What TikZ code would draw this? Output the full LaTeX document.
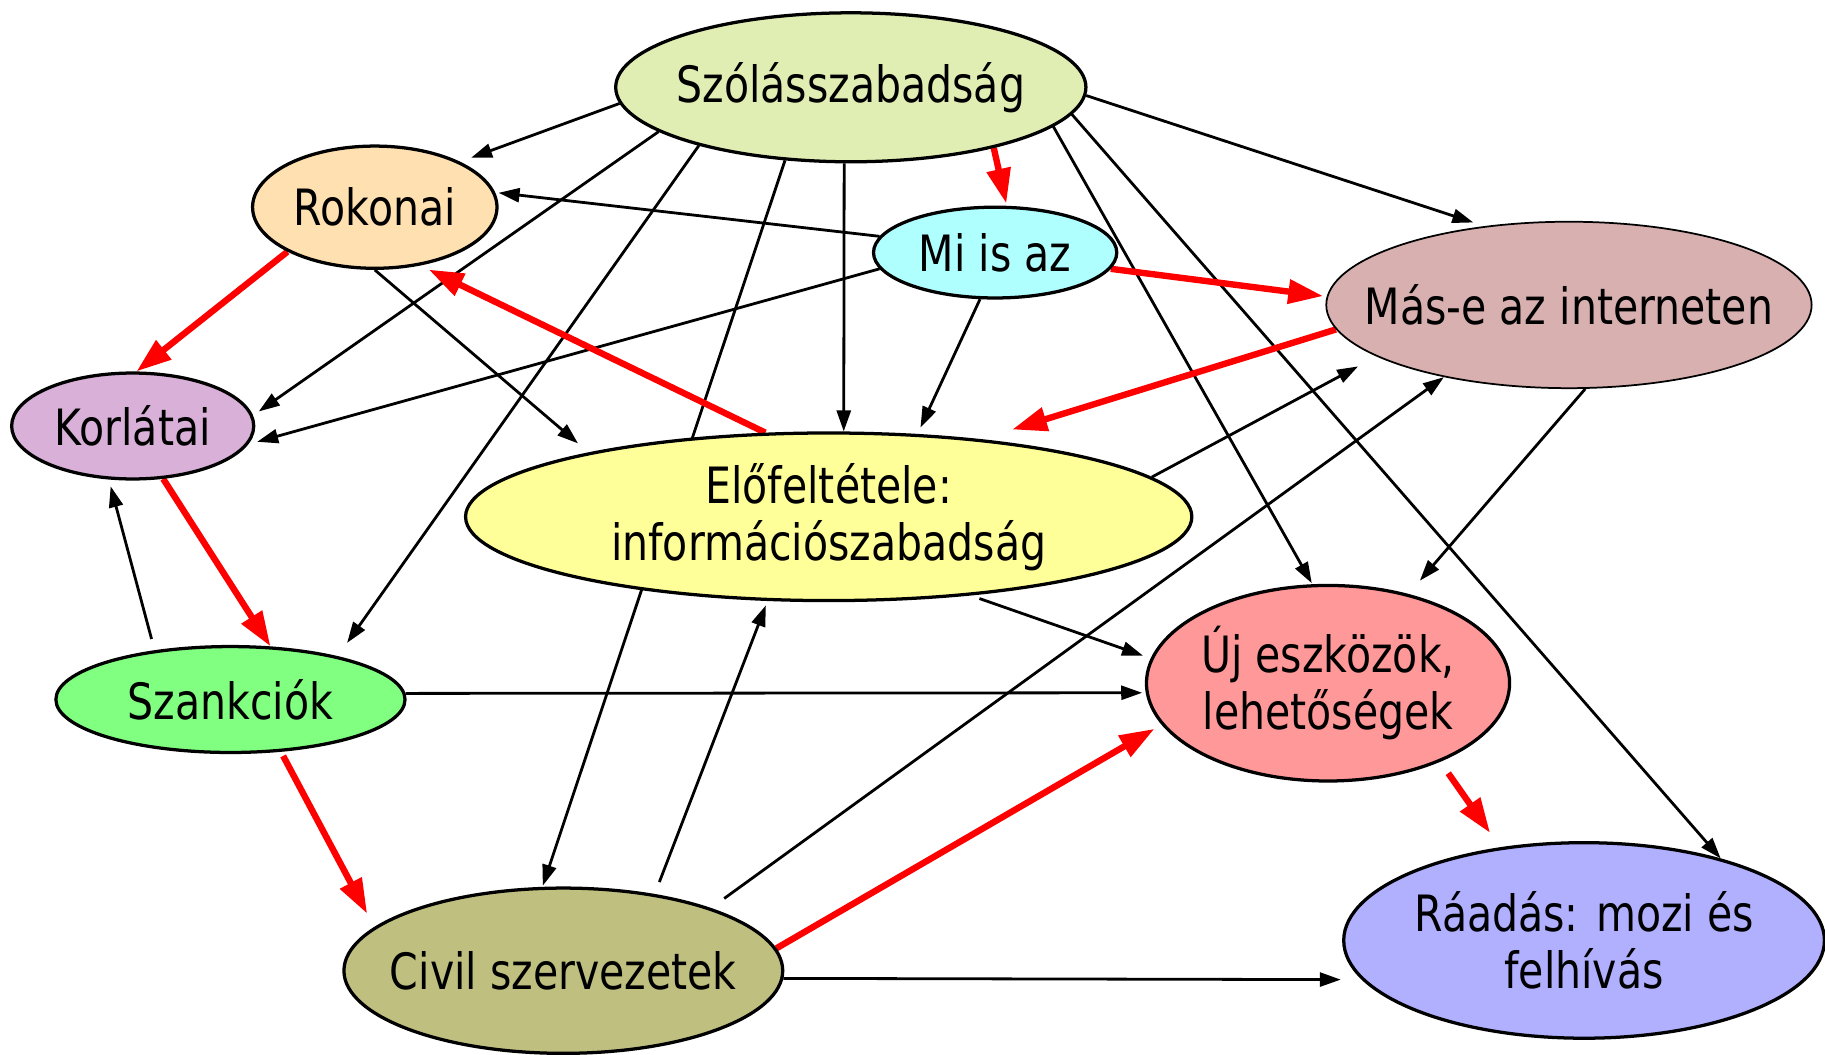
\documentclass[tikz,border=0pt]{standalone}
\usepackage{fontspec}
\setmainfont[FakeStretch=0.82]{DejaVu Sans}
\usetikzlibrary{shapes.geometric,arrows.meta}
\pgfdeclarelayer{bg}
\pgfsetlayers{bg,main}
\definecolor{cSzol}{HTML}{E0EEB4}
\definecolor{cRok}{HTML}{FFE0B0}
\definecolor{cMi}{HTML}{B0FFFF}
\definecolor{cMase}{HTML}{D8B0B0}
\definecolor{cKor}{HTML}{D8B0D8}
\definecolor{cElo}{HTML}{FFFF99}
\definecolor{cUj}{HTML}{FF9999}
\definecolor{cSzank}{HTML}{80FF80}
\definecolor{cCivil}{HTML}{BFBF80}
\definecolor{cRaadas}{HTML}{B0B0FF}
\begin{document}
\begin{tikzpicture}[x=1pt,y=-1pt,
 ell/.style={ellipse,draw,line width=2.8pt,inner sep=0pt},
 lbl/.style={font=\fontsize{43}{49}\selectfont,align=center,inner sep=0pt},
 blk/.style={line width=2.4pt,-{Triangle[length=18pt,width=12pt]}},
 redar/.style={line width=5.5pt,red,-{Triangle[length=30pt,width=20pt]}}]
\useasboundingbox (0,0) rectangle (1568,906);
\node[ell,fill=cSzol,minimum width=404pt,minimum height=128pt,label={[lbl]center:Szólásszabadság}] (szol) at (731,75) {};
\node[ell,fill=cRok,minimum width=210pt,minimum height=105pt,label={[lbl]center:Rokonai}] (rok) at (322,178) {};
\node[ell,fill=cMi,minimum width=209pt,minimum height=78pt,label={[lbl]center:Mi is az}] (mi) at (855,217) {};
\node[ell,line width=1.5pt,fill=cMase,minimum width=417pt,minimum height=143pt,label={[lbl]center:Más-e az interneten}] (mase) at (1348,262) {};
\node[ell,fill=cKor,minimum width=208pt,minimum height=91pt,label={[lbl]center:Korlátai}] (kor) at (114,366) {};
\node[ell,fill=cElo,minimum width=624pt,minimum height=144pt,label={[lbl]center:{Előfeltétele:\\információszabadság}}] (elo) at (712,444) {};
\node[ell,fill=cUj,minimum width=312pt,minimum height=168pt,label={[lbl]center:{Új eszközök,\\lehetőségek}}] (uj) at (1141,587) {};
\node[ell,fill=cSzank,minimum width=300pt,minimum height=91pt,label={[lbl]center:Szankciók}] (szank) at (198,601) {};
\node[ell,fill=cCivil,minimum width=377pt,minimum height=142pt,label={[lbl]center:Civil szervezetek}] (civil) at (484,834) {};
\node[ell,fill=cRaadas,minimum width=413pt,minimum height=168pt,label={[lbl]center:{Ráadás: mozi és\\felhívás}}] (raadas) at (1361,808) {};
\begin{pgfonlayer}{bg}
\draw[blk,shorten >=10pt] (szol.184) -- (rok.28);
\draw[blk,shorten >=6pt] (szol.193) -- (kor.5);
\draw[blk,shorten >=14pt] (szol.201) -- (szank.22);
\draw[blk,shorten >=1pt] (szol.228) -- (civil.104);
\draw[blk] (szol.265) -- (elo.80);
\draw[redar,shorten >=2pt] (szol.337) -- (mi.76);
\draw[blk,shorten >=10pt] (szol.358) -- (mase.137);
\draw[blk,shorten >=1pt] (szol.349) -- (uj.99);
\draw[blk] (szol.353) -- (raadas.31);
\draw[blk,shorten >=3pt] (mi.172) -- (rok.7);
\draw[blk,shorten >=8pt] (mi.188) -- (kor.351);
\draw[blk,shorten >=6pt] (mi.252) -- (elo.43);
\draw[redar,shorten >=3pt] (mi.352) -- (mase.178);
\draw[redar] (rok.207) -- (kor.86);
\draw[blk,shorten >=12pt] (rok.270) -- (elo.165);
\draw[redar,shorten >=8pt] (elo.127) -- (rok.308);
\draw[redar,shorten >=28pt] (mase.186) -- (elo.27);
\draw[blk,shorten >=18pt] (elo.7) -- (mase.195);
\draw[blk,shorten <=14pt] (civil.23) -- (mase.210);
\draw[blk,shorten >=15pt] (mase.281) -- (uj.48);
\draw[redar] (kor.300) -- (szank.53);
\draw[blk,shorten <=10pt,shorten >=6pt] (szank.147) -- (kor.246);
\draw[blk,shorten >=3pt] (szank.2) -- (uj.183);
\draw[blk,shorten <=8pt,shorten >=7pt] (elo.331) -- (uj.172);
\draw[redar,shorten <=4pt,shorten >=13pt] (szank.314) -- (civil.167);
\draw[blk,shorten <=11pt,shorten >=4pt] (civil.40) -- (elo.234);
\draw[redar,shorten >=7pt] (civil.6) -- (uj.194);
\draw[blk,shorten >=18pt] (civil.358) -- (raadas.190);
\draw[redar,shorten <=12pt,shorten >=15pt] (uj.325) -- (raadas.132);
\end{pgfonlayer}
\end{tikzpicture}
\end{document}
